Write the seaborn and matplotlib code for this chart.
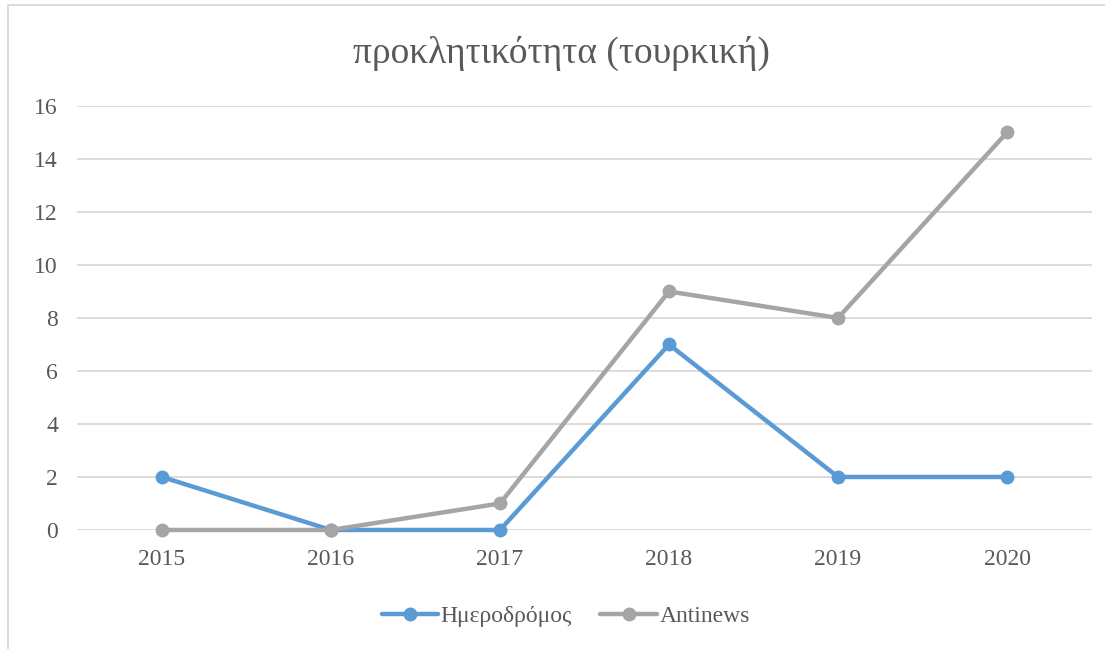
import pandas as pd
import seaborn as sns
import matplotlib.pyplot as plt
from matplotlib.lines import Line2D

years = ['2015', '2016', '2017', '2018', '2019', '2020']
imerodromos = [2, 0, 0, 7, 2, 2]
antinews = [0, 0, 1, 9, 8, 15]
series_names = ['Ημεροδρόμος', 'Antinews']
colors = ['#5B9BD5', '#A5A5A5']

df = pd.DataFrame({
    'Έτος': years * 2,
    'Τιμή': imerodromos + antinews,
    'Σειρά': [series_names[0]] * len(years) + [series_names[1]] * len(years),
})

sns.set_style('white')
plt.rcParams['font.family'] = ['Liberation Serif', 'DejaVu Serif']
text_color = '#595959'

fig = plt.figure(figsize=(11.05, 6.49), dpi=100)
ax = fig.add_axes([0.0701, 0.1834, 0.9177, 0.6533])

sns.lineplot(data=df, x='Έτος', y='Τιμή', hue='Σειρά', palette=colors,
             marker='o', markersize=10, markeredgewidth=0, linewidth=3.2,
             sort=False, ax=ax, legend=False, clip_on=False)

ax.set_xlim(-0.5, 5.5)
ax.set_ylim(0, 16)
ax.set_yticks(range(0, 17, 2))
ax.yaxis.grid(True, color='#D9D9D9', linewidth=1.3)
ax.set_axisbelow(True)
for s in ax.spines.values():
    s.set_visible(False)
ax.set_xlabel('')
ax.set_ylabel('')
ax.tick_params(axis='both', length=0, labelsize=17, labelcolor=text_color)
ax.tick_params(axis='y', pad=14)
ax.tick_params(axis='x', pad=14)

fig.text(0.508, 0.918, 'προκλητικότητα (τουρκική)', ha='center', va='center',
         fontsize=27, color=text_color)

handles = [Line2D([0], [0], color=c, lw=3.2, marker='o', markersize=10, markeredgewidth=0)
           for c in colors]
fig.legend(handles, series_names, loc='center', bbox_to_anchor=(0.512, 0.05),
           ncol=2, frameon=False, fontsize=17, labelcolor=text_color,
           handlelength=2.4, handletextpad=0.1, columnspacing=1.2)

# chart border (top and left edges visible)
fig.add_artist(Line2D([0.0072, 0.0072], [0, 0.992], color='#D9D9D9', lw=1.3,
                      transform=fig.transFigure))
fig.add_artist(Line2D([0.0072, 1], [0.992, 0.992], color='#D9D9D9', lw=1.3,
                      transform=fig.transFigure))

fig.savefig('out.png', dpi=100)
